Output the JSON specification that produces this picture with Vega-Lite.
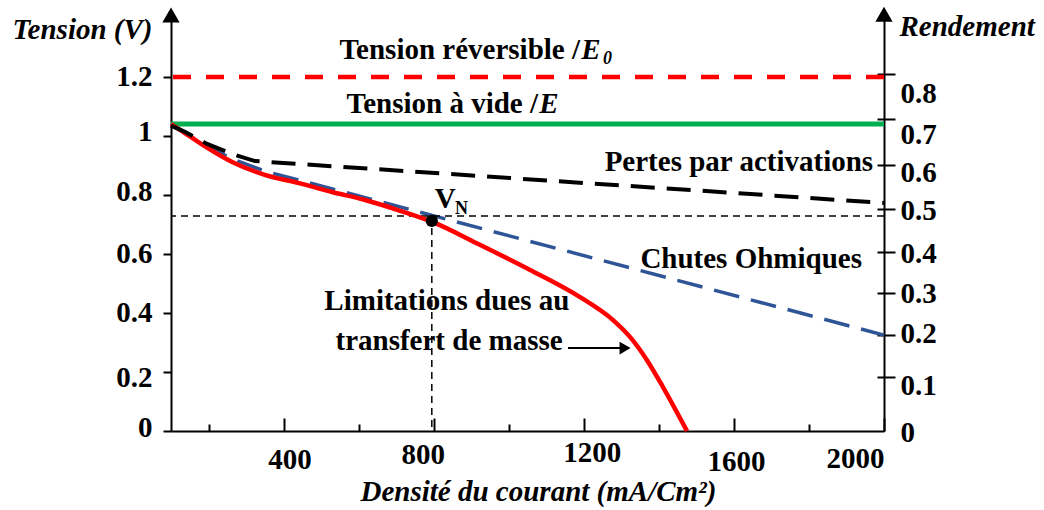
{
  "$schema": "https://vega.github.io/schema/vega-lite/v6.json",
  "width": 713,
  "height": 421,
  "autosize": {"type": "none"},
  "padding": {"left": 171, "top": 10, "right": 160, "bottom": 79},
  "background": "white",
  "config": {
    "view": {"stroke": null},
    "font": "Liberation Serif",
    "axis": {
      "grid": false,
      "domainColor": "black",
      "tickColor": "black",
      "labelColor": "black",
      "titleColor": "black",
      "labelFont": "Liberation Serif",
      "titleFont": "Liberation Serif",
      "labelFontWeight": "bold",
      "titleFontWeight": "bold",
      "labelFontSize": 29,
      "titleFontSize": 29,
      "domainWidth": 2,
      "tickWidth": 2
    }
  },
  "datasets": {
    "curves": [
      {"s": "act", "x": 100, "v": 1.035},
      {"s": "act", "x": 137, "v": 1.014},
      {"s": "act", "x": 196, "v": 0.973},
      {"s": "act", "x": 270, "v": 0.936},
      {"s": "act", "x": 324, "v": 0.915},
      {"s": "act", "x": 2000, "v": 0.773},
      {"s": "ohm", "x": 100, "v": 1.04},
      {"s": "ohm", "x": 137, "v": 1.012},
      {"s": "ohm", "x": 172, "v": 0.983},
      {"s": "ohm", "x": 263, "v": 0.922},
      {"s": "ohm", "x": 350, "v": 0.881},
      {"s": "ohm", "x": 2000, "v": 0.325},
      {"s": "total", "x": 100, "v": 1.04},
      {"s": "total", "x": 137, "v": 1.01},
      {"s": "total", "x": 172, "v": 0.98},
      {"s": "total", "x": 263, "v": 0.912},
      {"s": "total", "x": 350, "v": 0.868},
      {"s": "total", "x": 438, "v": 0.841},
      {"s": "total", "x": 529, "v": 0.81},
      {"s": "total", "x": 617, "v": 0.783},
      {"s": "total", "x": 705, "v": 0.749},
      {"s": "total", "x": 798, "v": 0.708},
      {"s": "total", "x": 923, "v": 0.631},
      {"s": "total", "x": 1057, "v": 0.546},
      {"s": "total", "x": 1190, "v": 0.454},
      {"s": "total", "x": 1278, "v": 0.376},
      {"s": "total", "x": 1323, "v": 0.319},
      {"s": "total", "x": 1368, "v": 0.241},
      {"s": "total", "x": 1411, "v": 0.149},
      {"s": "total", "x": 1475, "v": 0}
    ],
    "levels": [
      {"name": "E0", "v": 1.2},
      {"name": "E", "v": 1.041}
    ],
    "vn": [{"x": 795, "v": 0.712, "vline": 0.729}],
    "arrowLine": [{"x": 1158, "x2": 1298, "v": 0.281}],
    "arrowHead": [{"x": 1310, "v": 0.281}],
    "axisArrow": [{"x": 100, "v": 1.41}],
    "annRight": [
      {"t": "Tension réversible /", "x": 1190, "v": 1.261},
      {"t": "Tension à vide /", "x": 1078, "v": 1.078},
      {"t": "Pertes par activations", "x": 1971, "v": 0.881}
    ],
    "annCenter": [
      {"t": "Chutes Ohmiques", "x": 1646, "v": 0.5525},
      {"t": "Limitations dues au", "x": 835, "v": 0.41},
      {"t": "transfert de masse", "x": 841, "v": 0.2746}
    ],
    "annItalic": [
      {"t": "E", "x": 1193, "v": 1.261},
      {"t": "E", "x": 1081, "v": 1.078}
    ],
    "annSub": [{"t": "0", "x": 1251, "v": 1.244}],
    "annV": [{"t": "V", "x": 803, "v": 0.756}],
    "annN": [{"t": "N", "x": 857, "v": 0.7356}],
    "rightArrow": [{"x": 2000, "r": 0.94}]
  },
  "resolve": {"scale": {"y": "independent"}},
  "layer": [
    {
      "data": {"name": "curves"},
      "transform": [{"filter": "datum.s == 'ohm'"}],
      "mark": {"type": "line", "color": "#2f5597", "strokeWidth": 3.5, "strokeDash": [26, 12]},
      "encoding": {
        "x": {
          "field": "x",
          "type": "quantitative",
          "scale": {"domain": [100, 2000], "nice": false, "zero": false},
          "axis": {
            "orient": "bottom",
            "values": [200, 300, 400, 500, 600, 700, 800, 900, 1000, 1100, 1200, 1300, 1400, 1500, 1600, 1700, 1800, 1900, 2000],
            "labelExpr": "datum.value % 400 === 0 ? format(datum.value, 'd') : ''",
            "labelOverlap": false,
            "labelFlush": true,
            "tickSize": 0,
            "labelPadding": 12,
            "labelBaseline": "top",
            "title": "Densité du courant (mA/Cm²)",
            "titleFontStyle": "italic",
            "titleAlign": "center",
            "titleBaseline": "alphabetic",
            "titleX": 367,
            "titleY": 69,
            "encoding": {
              "ticks": {
                "y2": {"condition": {"test": "datum.value % 400 === 0", "value": -13}, "value": -7}
              },
              "labels": {
                "dx": {"condition": [
                  {"test": "datum.value == 400", "value": 6},
                  {"test": "datum.value == 800", "value": -11},
                  {"test": "datum.value == 1200", "value": 8},
                  {"test": "datum.value == 1600", "value": 2}
                ], "value": 0},
                "dy": {"condition": [
                  {"test": "datum.value == 400", "value": 2},
                  {"test": "datum.value == 800", "value": -3},
                  {"test": "datum.value == 1200", "value": -5},
                  {"test": "datum.value == 1600", "value": 4}
                ], "value": 1}
              }
            }
          }
        },
        "y": {
          "field": "v",
          "type": "quantitative",
          "scale": {"domain": [0, 1.427], "nice": false, "zero": false},
          "axis": {
            "orient": "left",
            "values": [0, 0.2, 0.4, 0.6, 0.8, 1, 1.2],
            "labelExpr": "format(datum.value, '~g')",
            "tickSize": 8,
            "labelPadding": 11,
            "title": "Tension (V)",
            "titleAngle": 0,
            "titleFontStyle": "italic",
            "titleAlign": "right",
            "titleBaseline": "alphabetic",
            "titleX": -19,
            "titleY": 28,
            "encoding": {
              "labels": {
                "dy": {"condition": [
                  {"test": "datum.value == 1", "value": -4},
                  {"test": "datum.value == 0.8", "value": -3},
                  {"test": "datum.value == 0.2", "value": 6},
                  {"test": "datum.value == 0", "value": -4}
                ], "value": 0}
              }
            }
          }
        }
      }
    },
    {
      "data": {"name": "vn"},
      "mark": {"type": "rule", "color": "black", "strokeWidth": 1.5, "strokeDash": [7, 5]},
      "encoding": {
        "y": {"field": "vline", "type": "quantitative", "scale": {"domain": [0, 1.427], "nice": false, "zero": false}, "axis": null}
      }
    },
    {
      "data": {"name": "vn"},
      "mark": {"type": "rule", "color": "black", "strokeWidth": 1.5, "strokeDash": [7, 5]},
      "encoding": {
        "x": {"field": "x", "type": "quantitative"},
        "y": {"field": "vline", "type": "quantitative", "scale": {"domain": [0, 1.427], "nice": false, "zero": false}, "axis": null},
        "y2": {"datum": 0}
      }
    },
    {
      "data": {"name": "levels"},
      "transform": [{"filter": "datum.name == 'E'"}],
      "mark": {"type": "rule", "color": "#00b050", "strokeWidth": 5},
      "encoding": {
        "y": {"field": "v", "type": "quantitative", "scale": {"domain": [0, 1.427], "nice": false, "zero": false}, "axis": null}
      }
    },
    {
      "data": {"name": "levels"},
      "transform": [{"filter": "datum.name == 'E0'"}],
      "mark": {"type": "rule", "color": "#ff0000", "strokeWidth": 4.5, "strokeDash": [18, 15]},
      "encoding": {
        "y": {"field": "v", "type": "quantitative", "scale": {"domain": [0, 1.427], "nice": false, "zero": false}, "axis": null}
      }
    },
    {
      "data": {"name": "curves"},
      "transform": [{"filter": "datum.s == 'total'"}],
      "mark": {"type": "line", "color": "#ff0000", "strokeWidth": 4.5, "interpolate": "monotone"},
      "encoding": {
        "x": {"field": "x", "type": "quantitative"},
        "y": {"field": "v", "type": "quantitative", "scale": {"domain": [0, 1.427], "nice": false, "zero": false}, "axis": null}
      }
    },
    {
      "data": {"name": "curves"},
      "transform": [{"filter": "datum.s == 'act'"}],
      "mark": {"type": "line", "color": "black", "strokeWidth": 4, "strokeDash": [24, 12]},
      "encoding": {
        "x": {"field": "x", "type": "quantitative"},
        "y": {"field": "v", "type": "quantitative", "scale": {"domain": [0, 1.427], "nice": false, "zero": false}, "axis": null}
      }
    },
    {
      "data": {"name": "vn"},
      "mark": {"type": "point", "shape": "circle", "filled": true, "color": "black", "size": 150, "opacity": 1},
      "encoding": {
        "x": {"field": "x", "type": "quantitative"},
        "y": {"field": "v", "type": "quantitative", "scale": {"domain": [0, 1.427], "nice": false, "zero": false}, "axis": null}
      }
    },
    {
      "data": {"name": "arrowLine"},
      "mark": {"type": "rule", "color": "black", "strokeWidth": 2},
      "encoding": {
        "x": {"field": "x", "type": "quantitative"},
        "x2": {"field": "x2"},
        "y": {"field": "v", "type": "quantitative", "scale": {"domain": [0, 1.427], "nice": false, "zero": false}, "axis": null}
      }
    },
    {
      "data": {"name": "arrowHead"},
      "mark": {"type": "point", "shape": "triangle-right", "filled": true, "color": "black", "size": 160, "opacity": 1},
      "encoding": {
        "x": {"field": "x", "type": "quantitative"},
        "y": {"field": "v", "type": "quantitative", "scale": {"domain": [0, 1.427], "nice": false, "zero": false}, "axis": null}
      }
    },
    {
      "data": {"name": "axisArrow"},
      "mark": {"type": "point", "shape": "triangle-up", "filled": true, "color": "black", "size": 300, "opacity": 1},
      "encoding": {
        "x": {"field": "x", "type": "quantitative"},
        "y": {"field": "v", "type": "quantitative", "scale": {"domain": [0, 1.427], "nice": false, "zero": false}, "axis": null}
      }
    },
    {
      "data": {"name": "annRight"},
      "mark": {"type": "text", "align": "right", "baseline": "alphabetic", "font": "Liberation Serif", "fontSize": 29, "fontWeight": "bold", "color": "black"},
      "encoding": {
        "x": {"field": "x", "type": "quantitative"},
        "y": {"field": "v", "type": "quantitative", "scale": {"domain": [0, 1.427], "nice": false, "zero": false}, "axis": null},
        "text": {"field": "t"}
      }
    },
    {
      "data": {"name": "annCenter"},
      "mark": {"type": "text", "align": "center", "baseline": "alphabetic", "font": "Liberation Serif", "fontSize": 29, "fontWeight": "bold", "color": "black"},
      "encoding": {
        "x": {"field": "x", "type": "quantitative"},
        "y": {"field": "v", "type": "quantitative", "scale": {"domain": [0, 1.427], "nice": false, "zero": false}, "axis": null},
        "text": {"field": "t"}
      }
    },
    {
      "data": {"name": "annItalic"},
      "mark": {"type": "text", "align": "left", "baseline": "alphabetic", "font": "Liberation Serif", "fontSize": 29, "fontWeight": "bold", "fontStyle": "italic", "color": "black"},
      "encoding": {
        "x": {"field": "x", "type": "quantitative"},
        "y": {"field": "v", "type": "quantitative", "scale": {"domain": [0, 1.427], "nice": false, "zero": false}, "axis": null},
        "text": {"field": "t"}
      }
    },
    {
      "data": {"name": "annSub"},
      "mark": {"type": "text", "align": "left", "baseline": "alphabetic", "font": "Liberation Serif", "fontSize": 18, "fontWeight": "bold", "fontStyle": "italic", "color": "black"},
      "encoding": {
        "x": {"field": "x", "type": "quantitative"},
        "y": {"field": "v", "type": "quantitative", "scale": {"domain": [0, 1.427], "nice": false, "zero": false}, "axis": null},
        "text": {"field": "t"}
      }
    },
    {
      "data": {"name": "annV"},
      "mark": {"type": "text", "align": "left", "baseline": "alphabetic", "font": "Liberation Serif", "fontSize": 29, "fontWeight": "bold", "color": "black"},
      "encoding": {
        "x": {"field": "x", "type": "quantitative"},
        "y": {"field": "v", "type": "quantitative", "scale": {"domain": [0, 1.427], "nice": false, "zero": false}, "axis": null},
        "text": {"field": "t"}
      }
    },
    {
      "data": {"name": "annN"},
      "mark": {"type": "text", "align": "left", "baseline": "alphabetic", "font": "Liberation Serif", "fontSize": 18, "fontWeight": "bold", "color": "black"},
      "encoding": {
        "x": {"field": "x", "type": "quantitative"},
        "y": {"field": "v", "type": "quantitative", "scale": {"domain": [0, 1.427], "nice": false, "zero": false}, "axis": null},
        "text": {"field": "t"}
      }
    },
    {
      "data": {"name": "rightArrow"},
      "mark": {"type": "point", "shape": "triangle-up", "filled": true, "color": "black", "size": 300, "opacity": 1},
      "encoding": {
        "x": {"field": "x", "type": "quantitative"},
        "y": {
          "field": "r",
          "type": "quantitative",
          "scale": {
            "domain": [0, 0.1, 0.2, 0.3, 0.4, 0.5, 0.6, 0.7, 0.8, 0.95],
            "range": [421, 367, 325, 283, 242, 199, 155, 109, 64, 0],
            "nice": false,
            "zero": false
          },
          "axis": {
            "orient": "right",
            "values": [0, 0.1, 0.2, 0.3, 0.4, 0.5, 0.6, 0.7, 0.8],
            "labelExpr": "format(datum.value, '~g')",
            "tickSize": 11,
            "labelPadding": 5,
            "labelAlign": "left",
            "title": "Rendement",
            "titleAngle": 0,
            "titleFontStyle": "italic",
            "titleAlign": "left",
            "titleBaseline": "alphabetic",
            "titleX": 15,
            "titleY": 25,
            "encoding": {
              "ticks": {
                "x": {"value": -7},
                "opacity": {"condition": {"test": "datum.value == 0", "value": 0}, "value": 1}
              },
              "labels": {
                "dy": {"condition": [
                  {"test": "datum.value == 0.8", "value": 19},
                  {"test": "datum.value == 0.7", "value": 15},
                  {"test": "datum.value == 0.6", "value": 7},
                  {"test": "datum.value == 0.5", "value": 1},
                  {"test": "datum.value == 0.4", "value": 1},
                  {"test": "datum.value == 0.2", "value": -2},
                  {"test": "datum.value == 0.1", "value": 8},
                  {"test": "datum.value == 0", "value": 1}
                ], "value": 0}
              }
            }
          }
        }
      }
    }
  ]
}
